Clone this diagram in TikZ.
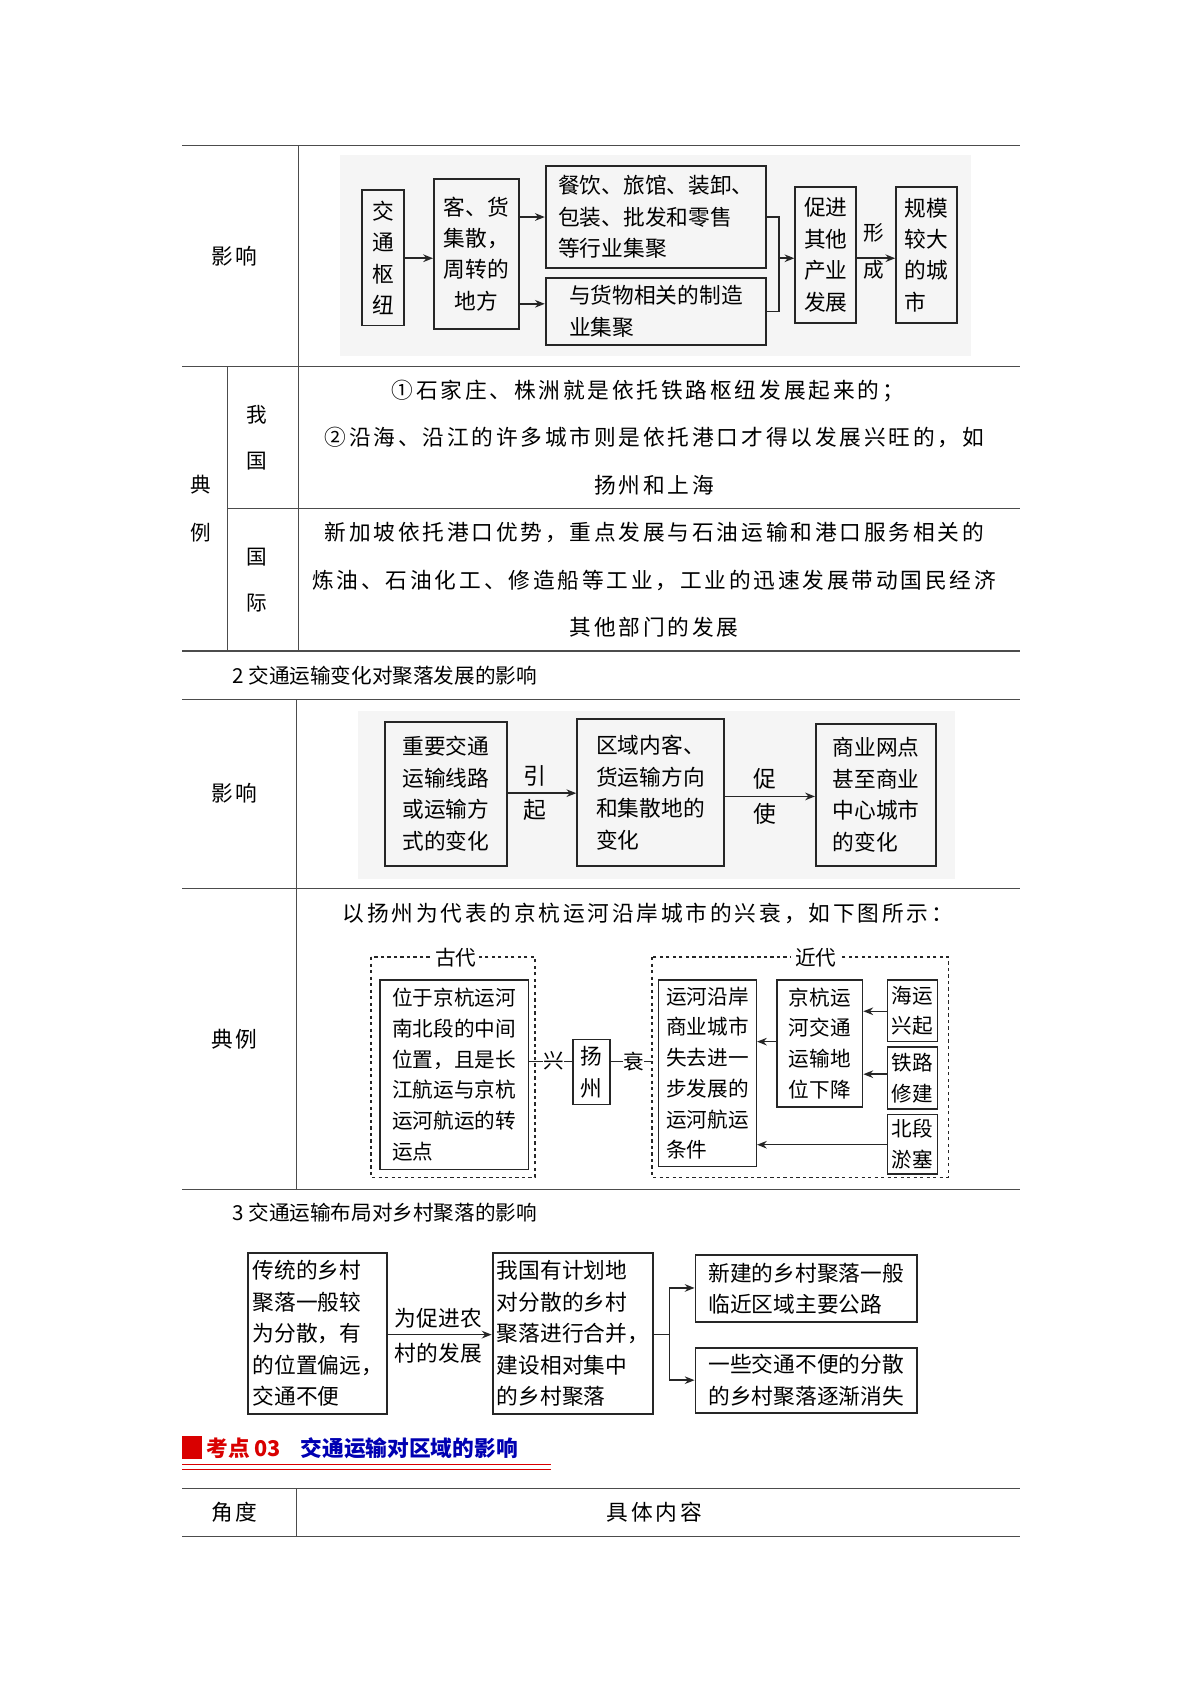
\documentclass[tikz,border=0pt]{standalone}
\usepackage{fontspec}
\newfontfamily\cjk{Noto Sans CJK SC}
\newfontfamily\cjkw[LetterSpace=13]{Noto Sans CJK SC}
\usetikzlibrary{arrows.meta}
\begin{document}
\begin{tikzpicture}[x=1pt,y=-1pt,
 tl/.style={draw=black!70,line width=1pt},
 tx/.style={font=\cjk\fontsize{19}{28}\selectfont,inner sep=0pt},
 txw/.style={font=\cjkw\fontsize{20}{28}\selectfont,inner sep=0pt},
 bxs/.style={draw=black!85,line width=1.8pt,font=\cjk\fontsize{20}{29}\selectfont,inner sep=4pt,align=center},
 ar/.style={draw=black!85,line width=1.6pt,-{Stealth[length=9pt,width=7pt]}},
 ln/.style={draw=black!85,line width=1.6pt},
 dsh/.style={draw=black!85,line width=1.3pt,dashed},
 bg/.style={fill=black!4,draw=none}]
\newcommand\bx[7][]{\node[bxs,#1,minimum width={(#5-#3)*1pt},minimum height={(#6-#4)*1pt}] (#2) at ({(#3+#5)/2},{(#4+#6)/2}) {#7};}
\useasboundingbox (0,0) rectangle (1106,1564);
\fill[white] (0,0) rectangle (1106,1564);
% table 1
\draw[tl] (168,134)--(940,134); \draw[tl] (168,338)--(940,338);
\draw[tl] (210,469)--(940,469); \draw[tl] (168,600)--(940,600);
\draw[tl] (275,134)--(275,600); \draw[tl] (210,338)--(210,600);
\node[txw] (y1) at (216,236) {影响};
\node[tx] (d1) at (185,447) {典}; \node[tx] (d2) at (185,491) {例};
\node[tx] (w1) at (237,382) {我}; \node[tx] (w2) at (237,425) {国};
\node[tx] (g1) at (237,513) {国}; \node[tx] (g2) at (237,556) {际};
\node[txw] (r1) at (597,360) {①石家庄、株洲就是依托铁路枢纽发展起来的；};
\node[txw] (r2) at (603,403) {②沿海、沿江的许多城市则是依托港口才得以发展兴旺的，如};
\node[txw] (r3) at (603,447) {扬州和上海};
\node[txw] (r4) at (603,491) {新加坡依托港口优势，重点发展与石油运输和港口服务相关的};
\node[txw] (r5) at (603,535) {炼油、石油化工、修造船等工业，工业的迅速发展带动国民经济};
\node[txw] (r6) at (603,578) {其他部门的发展};
% diagram 1
\fill[bg] (313,143) rectangle (895,328);
\bx[inner sep=2pt]{a1}{334}{175}{372}{300}{交\\通\\枢\\纽}
\bx[inner sep=2pt]{a2}{400}{165}{478}{303}{客、货\\集散，\\周转的\\地方}
\bx[align=left]{a3}{503}{153}{706}{247}{餐饮、旅馆、装卸、\\包装、批发和零售\\等行业集聚}
\bx[align=left]{a4}{503}{256}{706}{318}{与货物相关的制造\\业集聚\hspace*{4em}}
\bx[inner sep=2pt]{a5}{733}{172}{789}{298}{促进\\其他\\产业\\发展}
\bx[align=left,inner sep=2pt]{a6}{826}{172}{882}{298}{规模\\较大\\的城\\市}
\node[tx,align=center] (xc) at (805,232) {形\\[6pt]成};
\draw[ar] (a1.east|-0,238) -- (a2.west|-0,238);
\draw[ar] (a2.east|-0,200) -- (a3.west|-0,200);
\draw[ar] (a2.east|-0,280) -- (a4.west|-0,280);
\draw[ln] (a3.east|-0,200) -- (718,200) -- (718,287) -- (a4.east|-0,287);
\draw[ar] (718,238) -- (a5.west|-0,238);
\draw[ar] (a5.east|-0,238) -- (a6.west|-0,238);
% section 2
\node[tx,anchor=west] (h2) at (214,623) {2 交通运输变化对聚落发展的影响};
\draw[tl] (168,645)--(940,645); \draw[tl] (168,819)--(940,819); \draw[tl] (168,1096)--(940,1096);
\draw[tl] (273,645)--(273,1096);
\node[txw] (y2) at (216,731) {影响};
\node[txw] (d3) at (216,958) {典例};
\fill[bg] (330,655) rectangle (880,810);
\bx[align=left]{b1}{355}{665}{467}{798}{重要交通\\运输线路\\或运输方\\式的变化}
\bx[align=left]{b2}{532}{663}{667}{798}{区域内客、\\货运输方向\\和集散地的\\变化}
\bx[align=left]{b3}{752}{667}{863}{798}{商业网点\\甚至商业\\中心城市\\的变化}
\node[tx,font=\cjk\fontsize{21}{32}\selectfont,align=center] (l1) at (493,731) {引\\起};
\node[tx,font=\cjk\fontsize{21}{32}\selectfont,align=center] (l2) at (705,734) {促\\使};
\draw[ar] (b1.east|-0,731) -- (b2.west|-0,731);
\draw[ar] (b2.east|-0,734) -- (b3.west|-0,734);
\node[txw] (t1) at (597,842) {以扬州为代表的京杭运河沿岸城市的兴衰，如下图所示：};
\draw[dsh] (342,882) rectangle (493,1085);
\node[tx,fill=white,inner xsep=2pt] (gd) at (420,883) {古代};
\bx[align=left,line width=1.4pt,inner sep=2pt,font=\cjk\fontsize{19}{28.3}\selectfont]{c1}{350}{903}{487}{1078}{位于京杭运河\\南北段的中间\\位置，且是长\\江航运与京杭\\运河航运的转\\运点}
\bx[line width=1.4pt,inner sep=2pt]{c2}{528}{958}{562}{1018}{扬\\州}
\node[tx] (xg) at (510,978) {兴};
\node[tx] (sh) at (584,978) {衰};
\draw[ln,line width=1.2pt] (c1.east|-0,978) -- (xg.west);
\draw[ln,line width=1.2pt] (xg.east) -- (c2.west|-0,978);
\draw[ln,line width=1.2pt] (c2.east|-0,978) -- (sh.west);
\draw[ln,line width=1.2pt] (sh.east) -- (601,978);
\draw[dsh] (601,882) rectangle (874,1085);
\node[tx,fill=white,inner xsep=4pt] (jd) at (752,883) {近代};
\bx[align=left,line width=1.4pt,inner sep=2pt,font=\cjk\fontsize{19}{28.3}\selectfont]{c3}{607}{903}{697}{1075}{运河沿岸\\商业城市\\失去进一\\步发展的\\运河航运\\条件}
\bx[align=left,line width=1.4pt,inner sep=2pt,font=\cjk\fontsize{19}{28.3}\selectfont]{c4}{716}{903}{795}{1020}{京杭运\\河交通\\运输地\\位下降}
\bx[line width=1.4pt,inner sep=1pt,font=\cjk\fontsize{19}{28}\selectfont]{c5}{818}{903}{864}{960}{海运\\兴起}
\bx[line width=1.4pt,inner sep=1pt,font=\cjk\fontsize{19}{28}\selectfont]{c6}{818}{965}{864}{1022}{铁路\\修建}
\bx[line width=1.4pt,inner sep=1pt,font=\cjk\fontsize{19}{28}\selectfont]{c7}{818}{1027}{864}{1082}{北段\\淤塞}
\draw[ar,line width=1.3pt] (c5.west|-0,932) -- (c4.east|-0,932);
\draw[ar,line width=1.3pt] (c6.west|-0,990) -- (c4.east|-0,990);
\draw[ar,line width=1.3pt] (c4.west|-0,960) -- (c3.east|-0,960);
\draw[ar,line width=1.3pt] (c7.west|-0,1055) -- (c3.east|-0,1055);
% section 3
\node[tx,anchor=west] (h3) at (214,1118) {3 交通运输布局对乡村聚落的影响};
\bx[align=left]{e1}{229}{1155}{357}{1303}{传统的乡村\\聚落一般较\\为分散，有\\的位置偏远，\\交通不便}
\bx[align=left]{e2}{458}{1155}{598}{1303}{我国有计划地\\对分散的乡村\\聚落进行合并，\\建设相对集中\\的乡村聚落}
\bx[align=left]{e3}{641}{1157}{845}{1218}{新建的乡村聚落一般\\临近区域主要公路}
\bx[align=left]{e4}{641}{1242}{845}{1302}{一些交通不便的分散\\的乡村聚落逐渐消失}
\node[tx,align=left,font=\cjk\fontsize{20}{32}\selectfont] (l3) at (404,1231) {为促进农\\村的发展};
\draw[ar] (e1.east|-0,1230) -- (e2.west|-0,1230);
\draw[ln] (e2.east|-0,1230) -- (617,1230);
\draw[ar] (617,1230) |- (e3.west|-0,1187);
\draw[ar] (617,1230) |- (e4.west|-0,1272);
% kaodian
\fill[red!85!black] (168,1323) rectangle (186,1345);
\node[anchor=west,inner sep=0pt,text=red!85!black,font=\cjk\bfseries\fontsize{20}{24}\selectfont] (kd) at (190,1335) {考点 03\hspace{18pt}\textcolor{blue!70!black}{交通运输对区域的影响}};
\draw[red!85!black,line width=1.2pt] (168,1350)--(508,1350);
\draw[red!85!black,line width=1.2pt] (168,1354)--(508,1354);
\draw[tl] (168,1372)--(940,1372); \draw[tl] (168,1416)--(940,1416);
\draw[tl] (273,1372)--(273,1416);
\node[txw] (jdd) at (216,1394) {角度};
\node[txw] (jt) at (603,1394) {具体内容};
\end{tikzpicture}
\end{document}
